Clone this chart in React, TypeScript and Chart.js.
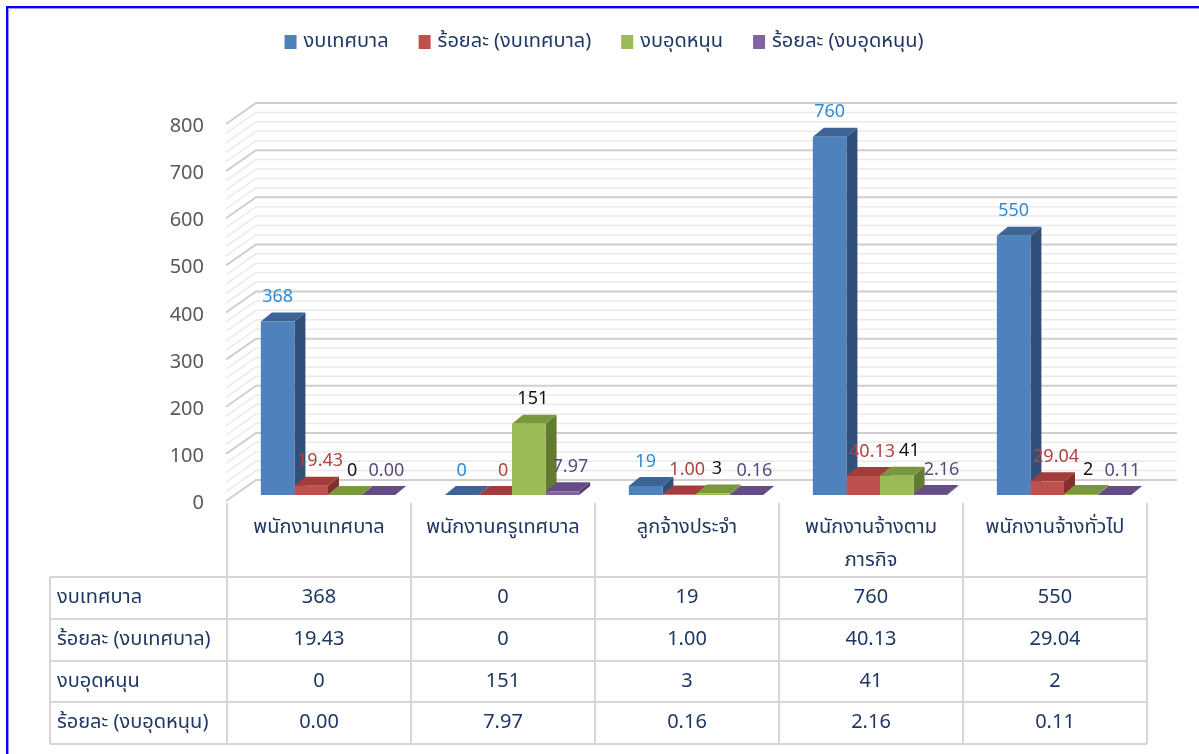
import React, { useEffect, useRef } from 'react';
import { Chart, registerables } from 'chart.js';

Chart.register(...registerables);

// ---------- data ----------
const categoryLines: string[][] = [
  ['พนักงานเทศบาล'],
  ['พนักงานครูเทศบาล'],
  ['ลูกจ้างประจำ'],
  ['พนักงานจ้างตาม', 'ภารกิจ'],
  ['พนักงานจ้างทั่วไป'],
];
const seriesNames = ['งบเทศบาล', 'ร้อยละ (งบเทศบาล)', 'งบอุดหนุน', 'ร้อยละ (งบอุดหนุน)'];
const budgetMunicipal = [368, 0, 19, 760, 550];
const pctMunicipal = [19.43, 0, 1.0, 40.13, 29.04];
const budgetSubsidy = [0, 151, 3, 41, 2];
const pctSubsidy = [0.0, 7.97, 0.16, 2.16, 0.11];
const yTicks = [0, 100, 200, 300, 400, 500, 600, 700, 800];

// ---------- style ----------
const FONT = "Tahoma, 'Noto Sans Thai', 'Noto Sans', 'DejaVu Sans', sans-serif";
const frontColors = ['#4f81bd', '#c0504d', '#9bbb59', '#8064a2'];
const topColors = ['#3c6595', '#a13d3a', '#7a973e', '#654c85'];
const sideColors = ['#30507a', '#86302e', '#627b31', '#503d6a'];
const labelColors = ['#2f8bd3', '#b0433f', '#111111', '#5a4b7a'];
const labelDx = [0, 8, 4, 8];
const TEXT_NAVY = '#1f3763';
const DX = 11;
const DY = -9;
const formatters: ((v: number) => string)[] = [
  (v) => String(v),
  (v) => (v === 0 ? '0' : v.toFixed(2)),
  (v) => String(v),
  (v) => v.toFixed(2),
];
const seriesValues = [budgetMunicipal, pctMunicipal, budgetSubsidy, pctSubsidy];

const threeDPlugin = {
  id: 'threeD',
  beforeDatasetsDraw(chart: any) {
    const { ctx, chartArea, scales } = chart;
    const y = scales.y;
    ctx.save();
    const wallLeft = chartArea.left + 20;
    const wallRight = chartArea.right + 21;
    const frontLeft = chartArea.left - 10;
    for (let v = 0; v <= 800; v += 20) {
      const p = y.getPixelForValue(v);
      const major = v % 100 === 0;
      ctx.strokeStyle = major ? '#cfcfcf' : '#eaeaea';
      ctx.lineWidth = major ? 2 : 1.5;
      ctx.beginPath();
      ctx.moveTo(frontLeft, p + 6);
      ctx.lineTo(wallLeft, p - 15);
      ctx.lineTo(wallRight, p - 15);
      ctx.stroke();
    }
    const n = chart.data.labels.length;
    for (let i = 0; i < n; i++) {
      for (let d = 0; d < chart.data.datasets.length; d++) {
        const el = chart.getDatasetMeta(d).data[i];
        const { x: cx, y: top, base, width } = el.getProps(['x', 'y', 'base', 'width'], true);
        const x0 = cx - width / 2;
        const x1 = cx + width / 2;
        ctx.fillStyle = sideColors[d];
        ctx.beginPath();
        ctx.moveTo(x1, top);
        ctx.lineTo(x1 + DX, top + DY);
        ctx.lineTo(x1 + DX, base + DY);
        ctx.lineTo(x1, base);
        ctx.closePath();
        ctx.fill();
        ctx.fillStyle = topColors[d];
        ctx.beginPath();
        ctx.moveTo(x0, top);
        ctx.lineTo(x1, top);
        ctx.lineTo(x1 + DX, top + DY);
        ctx.lineTo(x0 + DX, top + DY);
        ctx.closePath();
        ctx.fill();
      }
    }
    ctx.restore();
  },
  afterDatasetsDraw(chart: any) {
    const { ctx } = chart;
    ctx.save();
    ctx.font = `18px ${FONT}`;
    ctx.textAlign = 'center';
    ctx.textBaseline = 'middle';
    const n = chart.data.labels.length;
    for (let i = 0; i < n; i++) {
      let prevRight = -Infinity;
      for (let d = 0; d < chart.data.datasets.length; d++) {
        const el = chart.getDatasetMeta(d).data[i];
        const v = chart.data.datasets[d].data[i] as number;
        const txt = formatters[d](v);
        const w = ctx.measureText(txt).width;
        let cx = el.x + labelDx[d];
        if (cx - w / 2 < prevRight + 4) cx = prevRight + 4 + w / 2;
        prevRight = cx + w / 2;
        ctx.fillStyle = labelColors[d];
        ctx.fillText(txt, cx, el.y - 23);
      }
    }
    ctx.restore();
  },
  afterDraw(chart: any) {
    const { ctx, chartArea, scales } = chart;
    const y = scales.y;
    const x = scales.x;
    ctx.save();
    // y tick labels
    ctx.font = `20px ${FONT}`;
    ctx.fillStyle = '#595959';
    ctx.textAlign = 'right';
    ctx.textBaseline = 'middle';
    yTicks.forEach((t) => ctx.fillText(String(t), chartArea.left - 32, y.getPixelForValue(t) + 10));

    // legend
    ctx.font = `20px ${FONT}`;
    ctx.textBaseline = 'middle';
    ctx.textAlign = 'left';
    const widths = seriesNames.map((s) => 19 + ctx.measureText(s).width);
    const total = widths.reduce((a, b) => a + b, 0) + 30 * (seriesNames.length - 1);
    let lx = 604 - total / 2;
    seriesNames.forEach((s, k) => {
      ctx.fillStyle = frontColors[k];
      ctx.fillRect(lx, 35, 12, 14);
      ctx.fillStyle = TEXT_NAVY;
      ctx.fillText(s, lx + 19, 43);
      lx += widths[k] + 30;
    });

    // data table
    const n = chart.data.labels.length;
    const colW = (x.right - x.left) / n;
    const shift = -9;
    const bounds: number[] = [];
    for (let i = 0; i <= n; i++) bounds.push(x.left + shift + i * colW);
    const tableLeft = 50;
    const headerTop = 503;
    const rowLines = [577, 619, 661, 702, 744];
    ctx.strokeStyle = '#d6d6d6';
    ctx.lineWidth = 2;
    ctx.beginPath();
    bounds.forEach((bx) => {
      ctx.moveTo(bx, headerTop);
      ctx.lineTo(bx, rowLines[rowLines.length - 1]);
    });
    ctx.moveTo(tableLeft, rowLines[0]);
    ctx.lineTo(tableLeft, rowLines[rowLines.length - 1]);
    rowLines.forEach((ry) => {
      ctx.moveTo(tableLeft, ry);
      ctx.lineTo(bounds[n], ry);
    });
    ctx.stroke();

    ctx.fillStyle = TEXT_NAVY;
    ctx.font = `20px ${FONT}`;
    ctx.textAlign = 'center';
    categoryLines.forEach((lines, i) => {
      const cx = (bounds[i] + bounds[i + 1]) / 2;
      lines.forEach((ln, k) => ctx.fillText(ln, cx, 529 + k * 33));
    });
    for (let r = 0; r < seriesNames.length; r++) {
      const cy = (rowLines[r] + rowLines[r + 1]) / 2 + 1;
      ctx.textAlign = 'left';
      ctx.fillText(seriesNames[r], tableLeft + 7, cy);
      ctx.textAlign = 'center';
      seriesValues[r].forEach((v, i) => {
        ctx.fillText(formatters[r](v), (bounds[i] + bounds[i + 1]) / 2, cy);
      });
    }
    ctx.restore();
  },
};

export default function App() {
  const canvasRef = useRef<HTMLCanvasElement | null>(null);
  useEffect(() => {
    if (!canvasRef.current) return;
    const chart = new Chart(canvasRef.current, {
      type: 'bar',
      data: {
        labels: categoryLines.map((l) => l.join(' ')),
        datasets: seriesNames.map((name, d) => ({
          label: name,
          data: seriesValues[d],
          backgroundColor: frontColors[d],
          borderWidth: 0,
          categoryPercentage: 0.73,
          barPercentage: 1.0,
        })),
      },
      options: {
        responsive: false,
        animation: false,
        layout: { padding: { left: 236, right: 43, top: 118, bottom: 259 } },
        scales: {
          x: { display: false },
          y: { display: false, min: 0, max: 800 },
        },
        plugins: {
          legend: { display: false },
          tooltip: { enabled: false },
        },
      },
      plugins: [threeDPlugin],
    });
    return () => chart.destroy();
  }, []);

  return (
    <div style={{ position: 'fixed', left: 0, top: 0, width: 1199, height: 754, overflow: 'hidden', background: '#fff' }}>
      <div
        style={{
          position: 'absolute',
          left: 6,
          top: 6,
          width: 1250,
          height: 800,
          border: '2px solid #0000ff',
          boxShadow: 'inset 1px 1px 0 #9a9aff',
          boxSizing: 'border-box',
        }}
      />
      <canvas ref={canvasRef} width={1199} height={754} style={{ position: 'absolute', left: 0, top: 0 }} />
    </div>
  );
}
